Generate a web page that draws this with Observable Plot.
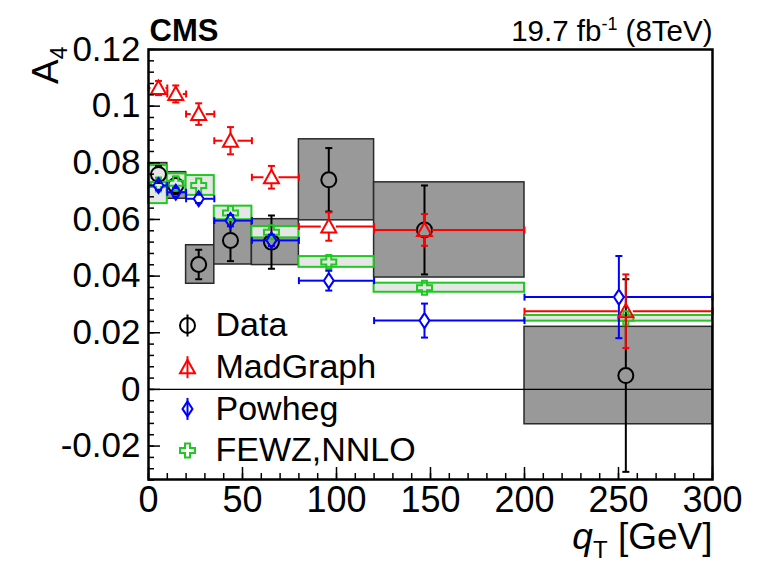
<!DOCTYPE html>
<html>
<head>
<meta charset="utf-8">
<script src="https://cdn.jsdelivr.net/npm/d3@7"></script>
<script src="https://cdn.jsdelivr.net/npm/@observablehq/plot@0.6"></script>
<style>
  html, body { margin: 0; padding: 0; background: #fff; }
</style>
</head>
<body>
<div id="chart"></div>
<script>
// ---- data ----
const binLo  = [0, 10, 20, 35, 55, 80, 120, 200];
const binHi  = [10, 20, 35, 55, 80, 120, 200, 300];
const qtMean = [5.3, 14.5, 26.7, 43.6, 65.4, 95.9, 146.8, 253.9];

const dataY    = [0.0759, 0.0720, 0.0441, 0.0526, 0.0520, 0.0740, 0.0563, 0.0049];
const dataStat = [0.0030, 0.0030, 0.0052, 0.0073, 0.0094, 0.0112, 0.0157, 0.0340];
const dataSys  = [0.0040, 0.0047, 0.0068, 0.0085, 0.0081, 0.0143, 0.0168, 0.0172];

const mgY   = [0.1064, 0.1043, 0.0972, 0.0878, 0.0749, 0.0575, 0.0563, 0.0276];
const mgErr = [0.0025, 0.0030, 0.0038, 0.0048, 0.0040, 0.0050, 0.0056, 0.0130];

const pwX   = [5.3, 14.5, 26.7, 43.6, 65.4, 95.9, 146.8, 250.2];
const pwY   = [0.0720, 0.0696, 0.0673, 0.0596, 0.0526, 0.0384, 0.0243, 0.0326];
const pwErr = [0.0015, 0.0015, 0.0015, 0.0020, 0.0020, 0.0035, 0.0060, 0.0145];

const fzY   = [0.0723, 0.0728, 0.0720, 0.0623, 0.0555, 0.0450, 0.0359, 0.0251];
const fzErr = [0.0067, 0.0033, 0.0035, 0.0024, 0.0020, 0.0019, 0.0016, 0.0010];

const yMajor = [-0.02, 0, 0.02, 0.04, 0.06, 0.08, 0.1, 0.12];
const yMinor = d3.range(-0.032, 0.1201, 0.004).map(v => +v.toFixed(3));
const xMajor = [0, 50, 100, 150, 200, 250, 300];
const xMinor = d3.range(0, 301, 10);

const legendLabels = ["Data", "MadGraph", "Powheg", "FEWZ,NNLO"];

// ---- tables ----
const data = binLo.map((lo, i) => ({lo, hi: binHi[i], x: qtMean[i], y: dataY[i], err: dataStat[i], sys: dataSys[i]}));
const mg   = binLo.map((lo, i) => ({lo, hi: binHi[i], x: qtMean[i], y: mgY[i], err: mgErr[i]}));
const pw   = binLo.map((lo, i) => ({lo, hi: binHi[i], x: pwX[i], y: pwY[i], err: pwErr[i]}));
const fz   = binLo.map((lo, i) => ({lo, hi: binHi[i], x: qtMean[i], y: fzY[i], err: fzErr[i]}));

// ---- styles ----
const FONT = "'Liberation Sans', Arial, Helvetica, sans-serif";
const RED = "#ff0000", BLUE = "#0000ff", GREEN = "#22c822";

// custom marker shapes
const hTick = {draw(c) { c.moveTo(-3.5, 0); c.lineTo(3.5, 0); }};
const vTick = {draw(c) { c.moveTo(0, -3.5); c.lineTo(0, 3.5); }};
const vBar  = {draw(c) { c.moveTo(0, -11); c.lineTo(0, 11); }};
const tri   = {draw(c) { c.moveTo(0, -7.5); c.lineTo(7.5, 6); c.lineTo(-7.5, 6); c.closePath(); }};
const diam  = {draw(c) { c.moveTo(0, -7.5); c.lineTo(5, 0); c.lineTo(0, 7.5); c.lineTo(-5, 0); c.closePath(); }};
const cross = {draw(c) {
  const W = 7.5, H = 7, t = 2.5;
  c.moveTo(-t, -H); c.lineTo(t, -H); c.lineTo(t, -t); c.lineTo(W, -t); c.lineTo(W, t);
  c.lineTo(t, t); c.lineTo(t, H); c.lineTo(-t, H); c.lineTo(-t, t); c.lineTo(-W, t);
  c.lineTo(-W, -t); c.lineTo(-t, -t); c.closePath();
}};
const circ = {draw(c) { c.moveTo(7.5, 0); c.arc(0, 0, 7.5, 0, 2 * Math.PI); c.closePath(); }};

function vErr(rows, color, inset) {
  return [
    Plot.ruleX(rows, {x: "x", y1: d => d.y + d.err, y2: "y", insetBottom: inset, stroke: color, strokeWidth: 2}),
    Plot.ruleX(rows, {x: "x", y1: "y", y2: d => d.y - d.err, insetTop: inset, stroke: color, strokeWidth: 2}),
    Plot.dot(rows, {x: "x", y: d => d.y + d.err, symbol: hTick, stroke: color, strokeWidth: 2}),
    Plot.dot(rows, {x: "x", y: d => d.y - d.err, symbol: hTick, stroke: color, strokeWidth: 2})
  ];
}
function hErr(rows, color, inset) {
  return [
    Plot.ruleY(rows, {y: "y", x1: "lo", x2: "x", insetRight: inset, stroke: color, strokeWidth: 2}),
    Plot.ruleY(rows, {y: "y", x1: "x", x2: "hi", insetLeft: inset, stroke: color, strokeWidth: 2}),
    Plot.dot(rows, {x: "lo", y: "y", symbol: vTick, stroke: color, strokeWidth: 2}),
    Plot.dot(rows, {x: "hi", y: "y", symbol: vTick, stroke: color, strokeWidth: 2})
  ];
}

const legendSpec = [
  {sym: circ, color: "black", bar: true},
  {sym: tri, color: RED, bar: true},
  {sym: diam, color: BLUE, bar: true},
  {sym: cross, color: GREEN, bar: false}
];
const legendMarks = legendLabels.flatMap((label, i) => {
  const dy = -154 + 41.7 * i;
  const s = legendSpec[i];
  const m = [];
  if (s.bar) m.push(Plot.dot([0], {frameAnchor: "bottom-left", dx: 39, dy, symbol: vBar, stroke: s.color, strokeWidth: 2}));
  m.push(Plot.dot([0], {frameAnchor: "bottom-left", dx: 39, dy, symbol: s.sym, stroke: s.color, fill: "none", strokeWidth: 2}));
  m.push(Plot.text([label], {frameAnchor: "bottom-left", dx: 67, dy, textAnchor: "start", lineAnchor: "middle", fontSize: 34, fill: "black"}));
  return m;
});

const fmtY = d => String(+d.toFixed(2));

const chart = Plot.plot({
  width: 772,
  height: 564,
  marginLeft: 148,
  marginRight: 60,
  marginTop: 49,
  marginBottom: 85,
  style: {fontFamily: FONT, background: "white", color: "black", overflow: "visible"},
  x: {domain: [0, 300], axis: null},
  y: {domain: [-0.0318, 0.12], axis: null},
  marks: [
    // systematic boxes for data
    Plot.rect(data, {x1: "lo", x2: "hi", y1: d => d.y - d.sys, y2: d => d.y + d.sys, fill: "#999999", stroke: "#2a2a2a", strokeWidth: 1.5}),
    // FEWZ boxes
    Plot.rect(fz, {x1: "lo", x2: "hi", y1: d => d.y - d.err, y2: d => d.y + d.err, fill: "#e6e6e6", stroke: GREEN, strokeWidth: 2}),
    // zero line
    Plot.ruleY([0], {stroke: "black", strokeWidth: 1.3}),
    // data
    ...vErr(data, "black", 7.5),
    Plot.dot(data, {x: "x", y: "y", symbol: circ, stroke: "black", fill: "none", strokeWidth: 2}),
    // FEWZ markers
    Plot.dot(fz, {x: "x", y: "y", symbol: cross, stroke: GREEN, fill: "none", strokeWidth: 2}),
    // Powheg
    ...hErr(pw, BLUE, 5),
    ...vErr(pw, BLUE, 7.5),
    Plot.dot(pw, {x: "x", y: "y", symbol: diam, stroke: BLUE, fill: "none", strokeWidth: 2}),
    // MadGraph
    ...hErr(mg, RED, 7.5),
    ...vErr(mg, RED, 6.5),
    Plot.dot(mg, {x: "x", y: "y", symbol: tri, stroke: RED, fill: "none", strokeWidth: 2}),
    // axes
    Plot.axisY(yMajor, {tickSize: 0, tickPadding: 8, tickFormat: fmtY, fontSize: 35, label: null, fill: "black"}),
    Plot.axisY(yMajor, {tickSize: -12, tickFormat: () => "", label: null, strokeWidth: 1.5}),
    Plot.axisY(yMinor, {tickSize: -6, tickFormat: () => "", label: null, strokeWidth: 1.5}),
    Plot.axisX(xMajor, {tickSize: 0, tickPadding: 7, fontSize: 36, label: null, fill: "black"}),
    Plot.axisX(xMajor, {tickSize: -12, tickFormat: () => "", label: null, strokeWidth: 1.5}),
    Plot.axisX(xMinor, {tickSize: -6, tickFormat: () => "", label: null, strokeWidth: 1.5}),
    Plot.frame({stroke: "black", strokeWidth: 2.5}),
    // legend
    ...legendMarks,
    // titles
    Plot.text(["CMS"], {frameAnchor: "top-left", dx: 1, dy: -9, textAnchor: "start", lineAnchor: "bottom", fontSize: 31, fontWeight: "bold", fill: "black"}),
    Plot.text(["19.7 fb-1 (8TeV)"], {frameAnchor: "top-right", dx: 0, dy: -9, textAnchor: "end", lineAnchor: "bottom", fontSize: 29.5, fill: "black"}),
    Plot.text(["A4"], {frameAnchor: "top-left", dx: -91, dy: -3, rotate: -90, textAnchor: "end", lineAnchor: "bottom", fontSize: 37, fill: "black"}),
    Plot.text(["qT [GeV]"], {frameAnchor: "bottom-right", dx: 0, dy: 69, textAnchor: "end", lineAnchor: "bottom", fontSize: 37, fill: "black"})
  ]
});

// rich-text fix-ups (subscripts / superscripts)
for (const t of chart.querySelectorAll("text")) {
  const s = t.textContent;
  if (s === "A4") t.innerHTML = 'A<tspan dy="9" font-size="23">4</tspan>';
  else if (s === "19.7 fb-1 (8TeV)") t.innerHTML = '19.7 fb<tspan dy="-11" font-size="18">-1</tspan><tspan dy="11"> (8TeV)</tspan>';
  else if (s === "qT [GeV]") t.innerHTML = '<tspan font-style="italic">q</tspan><tspan dy="9" font-size="24">T</tspan><tspan dy="-9"> [GeV]</tspan>';
}

document.getElementById("chart").appendChild(chart);
</script>
</body>
</html>
